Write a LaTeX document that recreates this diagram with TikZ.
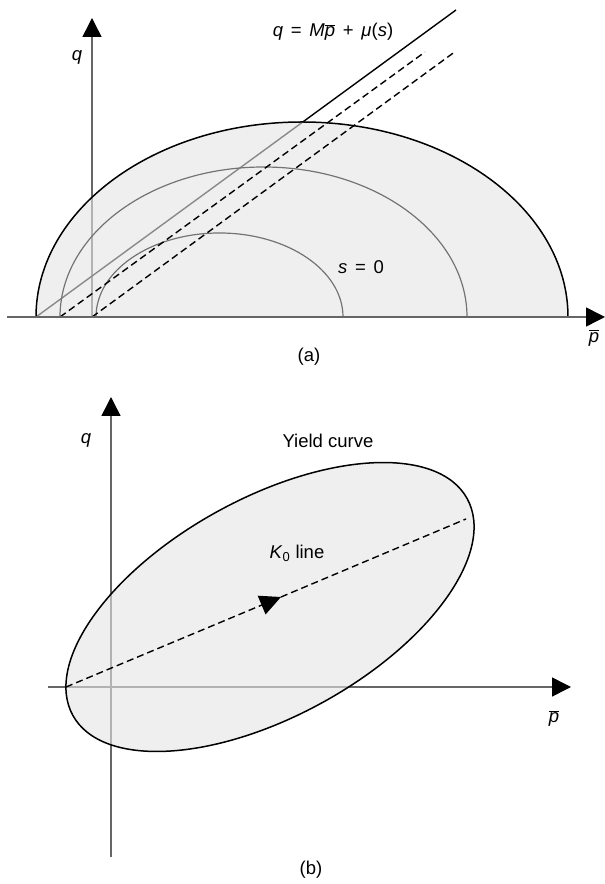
\documentclass[tikz,border=0pt]{standalone}
\usepackage{fontspec}
\setmainfont{Liberation Sans}
\usepackage{tikz}
\usetikzlibrary{arrows.meta,positioning,calc}

\tikzset{
  axis/.style={draw=black!60, line width=1.5pt, -{Triangle[length=19pt,width=19pt,color=black]}},
  yieldarc/.style={draw=black, line width=1.5pt},
  statearc/.style={draw=black!55, line width=1.2pt},
  shade/.style={fill=black!10, fill opacity=0.6},
  dashline/.style={line width=1.4pt, dash pattern=on 7pt off 4pt},
  lbl/.style={font=\fontsize{18.5}{22}\selectfont, inner sep=0pt}
}
\newcommand{\pbar}{\(\overline{\mbox{\itshape p}}\)}
\newcommand{\gap}{\hspace{0.42em}}

\begin{document}
\begin{tikzpicture}[x=1pt, y=1pt]
\useasboundingbox (0,0) rectangle (605,884);

% (a) points
\coordinate (aorig) at (92,567);
\coordinate (aqtip) at (92,866);
\coordinate (apstart) at (7,567);
\coordinate (aptip) at (605,567);
\coordinate (outerl) at (36,567);
\coordinate (middlel) at (60,567);
\coordinate (innerl) at (96,567);
\coordinate (csltop) at (456,874);
\coordinate (dashatop) at (425,832);
\coordinate (dashbtop) at (456,833);

% (a) axis and line under the shading
\draw[axis] (aorig) -- (aqtip);
\draw[line width=1.4pt] (outerl) -- (csltop);

% (a) yield surfaces
\fill[shade] (outerl) arc[start angle=180, end angle=0, x radius=266, y radius=195] -- cycle;
\draw[yieldarc] (outerl) arc[start angle=180, end angle=0, x radius=266, y radius=195];
\draw[statearc] (middlel) arc[start angle=180, end angle=0, x radius=203.5, y radius=150];
\draw[statearc] (innerl) arc[start angle=180, end angle=0, x radius=123.5, y radius=84];

% (a) dashed lines
\draw[dashline] (middlel) -- (dashatop);
\draw[dashline] (aorig) -- (dashbtop);
\draw[axis] (apstart) -- (aptip);

% (a) labels
\node (aq) [lbl] at (77,827) {\textit{q}};
\node (csl) [lbl] at (333,852) {\textit{q}\gap=\gap\textit{M}\pbar\gap+\gap\textit{μ}(\textit{s})};
\node (szero) [lbl] at (361,617) {\textit{s}\gap=\gap0};
\node (ap) [lbl] at (594,546) {\pbar};
\node (alabel) [lbl] at (309,527) {(a)};

% (b) points
\coordinate (bqstart) at (111,27);
\coordinate (bqtip) at (111,487);
\coordinate (bpstart) at (48,197);
\coordinate (bptip) at (571,197);
\coordinate (k0start) at (66,197);
\coordinate (k0mid) at (281,287);
\coordinate (k0end) at (466,365);

% (b) axes under the shading
\draw[axis] (bqstart) -- (bqtip);
\draw[axis] (bpstart) -- (bptip);

% (b) yield curve
\begin{scope}[shift={(270,277)}, rotate=28.8]
\fill[shade] (0,0) ellipse[x radius=225, y radius=109];
\draw[yieldarc] (0,0) ellipse[x radius=225, y radius=109];
\end{scope}

% (b) K0 line
\draw[dashline, -{Triangle[length=21pt,width=20pt]}] (k0start) -- (k0mid);
\draw[dashline] (k0mid) -- (k0end);

% (b) labels
\node (bq) [lbl] at (86,444) {\textit{q}};
\node (yield) [lbl] at (328,443) {Yield curve};
\node (k0) [lbl] at (297,331) {\textit{K}\textsubscript{0} line};
\node (bp) [lbl] at (554,166) {\pbar};
\node (blabel) [lbl] at (311,14) {(b)};

\end{tikzpicture}
\end{document}
